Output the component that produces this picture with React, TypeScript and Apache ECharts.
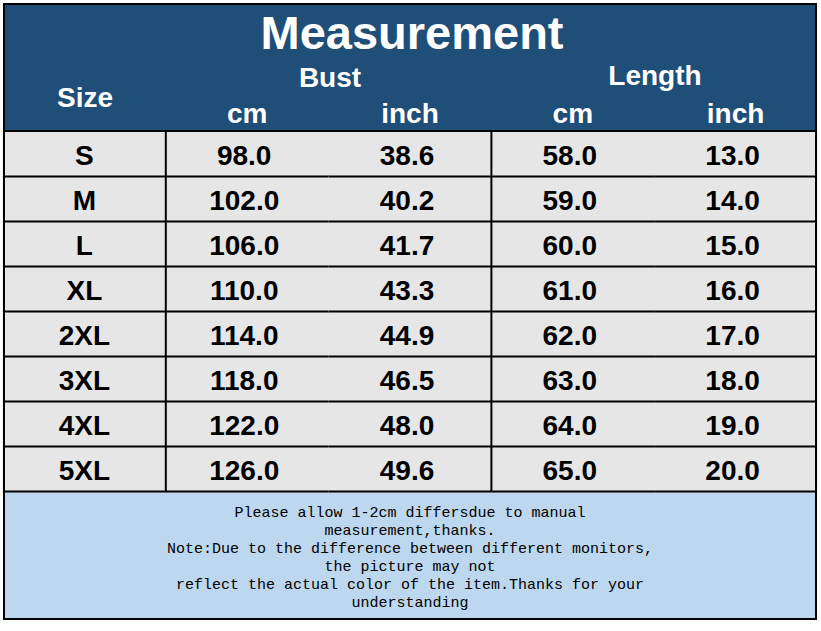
import React, { useEffect, useRef } from 'react';
import * as echarts from 'echarts';

const sizes = ['S', 'M', 'L', 'XL', '2XL', '3XL', '4XL', '5XL'];
const bustCm = [98.0, 102.0, 106.0, 110.0, 114.0, 118.0, 122.0, 126.0];
const bustInch = [38.6, 40.2, 41.7, 43.3, 44.9, 46.5, 48.0, 49.6];
const lengthCm = [58.0, 59.0, 60.0, 61.0, 62.0, 63.0, 64.0, 65.0];
const lengthInch = [13.0, 14.0, 15.0, 16.0, 17.0, 18.0, 19.0, 20.0];
const unitLabels = ['', 'cm', 'inch', 'cm', 'inch'];
const noteLines = [
  'Please allow 1-2cm differsdue to manual',
  'measurement,thanks.',
  'Note:Due to the difference between different monitors,',
  'the picture may not',
  'reflect the actual color of the item.Thanks for your',
  'understanding',
];

const BLUE = '#1F4E79';
const GREY = '#E7E6E6';
const NOTE_BG = '#BDD7EE';
const FONT = '"Liberation Sans", Arial, sans-serif';

const App: React.FC = () => {
  const chartRef = useRef<HTMLDivElement | null>(null);

  useEffect(() => {
    if (!chartRef.current) return;
    const chart = echarts.init(chartRef.current, null, { renderer: 'svg' });

    // table rows: size label + four measurements
    const table = sizes.map((s, i) => [
      s,
      bustCm[i].toFixed(1),
      bustInch[i].toFixed(1),
      lengthCm[i].toFixed(1),
      lengthInch[i].toFixed(1),
    ]);
    const cells: number[][] = [];
    table.forEach((row, r) => row.forEach((_, c) => cells.push([c, r])));

    const headerText = (text: string, x: number, y: number, size: number) => ({
      type: 'text',
      x,
      y,
      z: 10,
      style: {
        text,
        fill: '#fff',
        fontSize: size,
        fontWeight: 'bold',
        fontFamily: FONT,
        align: 'center',
        verticalAlign: 'middle',
      },
    });

    const option = {
      animation: false,
      backgroundColor: '#fff',
      grid: { left: 3, top: 131.5, width: 814, height: 360 },
      xAxis: {
        type: 'category',
        position: 'top',
        data: unitLabels,
        axisLine: { show: false },
        axisTick: { show: false },
        splitLine: { show: false },
        axisLabel: {
          color: '#fff',
          fontSize: 28,
          fontWeight: 'bold',
          fontFamily: FONT,
          margin: 18,
          verticalAlign: 'middle',
        },
        z: 10,
      },
      yAxis: {
        type: 'category',
        inverse: true,
        data: sizes,
        show: false,
      },
      graphic: [
        { type: 'rect', z: 0, shape: { x: 3, y: 3, width: 814, height: 128 }, style: { fill: BLUE } },
        { type: 'rect', z: 0, shape: { x: 3, y: 492, width: 814, height: 127 }, style: { fill: NOTE_BG } },
        headerText('Measurement', 412, 32, 47),
        headerText('Size', 85, 97, 28),
        headerText('Bust', 330, 77, 28),
        headerText('Length', 655, 75.5, 28),
        {
          type: 'line',
          z: 50,
          shape: { x1: 3, y1: 131, x2: 817, y2: 131 },
          style: { stroke: '#000', lineWidth: 2 },
        },
        ...noteLines.map((t, i) => ({
          type: 'text',
          x: 410,
          y: 513 + i * 18,
          z: 10,
          style: {
            text: t,
            fill: '#000',
            fontSize: 15,
            fontFamily: '"Liberation Mono", "DejaVu Sans Mono", monospace',
            align: 'center',
            verticalAlign: 'middle',
          },
        })),
        {
          type: 'rect',
          z: 100,
          shape: { x: 4, y: 4, width: 812, height: 615 },
          style: { fill: 'none', stroke: '#000', lineWidth: 2 },
        },
      ],
      series: [
        {
          type: 'custom',
          data: cells,
          renderItem: (params: any, api: any) => {
            const col = api.value(0);
            const row = api.value(1);
            const [cx, cy] = api.coord([col, row]);
            const [w, h] = api.size([1, 1]);
            const x0 = cx - w / 2;
            const y0 = cy - h / 2;
            return {
              type: 'group',
              children: [
                // a little overlap so no seam shows between cells
                {
                  type: 'rect',
                  shape: { x: x0 - 0.5, y: y0 - 0.5, width: w + 1, height: h + 1 },
                  style: { fill: GREY },
                },
                {
                  type: 'text',
                  x: cx + (col === 0 ? 0 : -3),
                  y: cy + 1.5,
                  style: {
                    text: table[row][col],
                    fill: '#000',
                    fontSize: 28,
                    fontWeight: 'bold',
                    fontFamily: FONT,
                    align: 'center',
                    verticalAlign: 'middle',
                  },
                },
              ],
            };
          },
          z: 2,
        },
        {
          // cell borders drawn above every cell background
          type: 'custom',
          data: cells,
          renderItem: (params: any, api: any) => {
            const col = api.value(0);
            const row = api.value(1);
            const [cx, cy] = api.coord([col, row]);
            const [w, h] = api.size([1, 1]);
            const x0 = cx - w / 2;
            const y0 = cy - h / 2;
            const children: any[] = [
              {
                type: 'line',
                shape: { x1: x0, y1: y0 + h, x2: x0 + w, y2: y0 + h },
                style: { stroke: '#000', lineWidth: 2 },
              },
            ];
            if (col === 0 || col === 2) {
              children.push({
                type: 'line',
                shape: { x1: x0 + w, y1: y0, x2: x0 + w, y2: y0 + h },
                style: { stroke: '#000', lineWidth: 2 },
              });
            }
            return { type: 'group', children };
          },
          z: 5,
          silent: true,
        },
      ],
    };

    chart.setOption(option as any);
    return () => {
      chart.dispose();
    };
  }, []);

  return (
    <div
      ref={chartRef}
      style={{ position: 'fixed', left: 0, top: 0, width: '821px', height: '631px' }}
    />
  );
};

export default App;
